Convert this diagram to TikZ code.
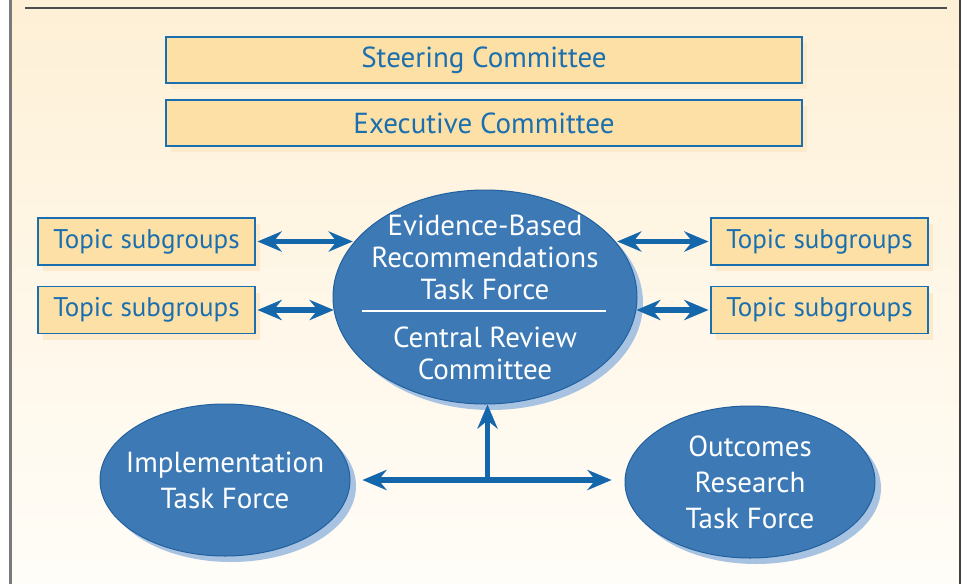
\documentclass[tikz,border=0pt]{standalone}
\usepackage{fontspec}
\setmainfont{PT Sans}
\usetikzlibrary{calc,positioning,arrows.meta,shapes.geometric,shadows}

\definecolor{panelTop}{HTML}{FEF0D6}
\definecolor{panelBottom}{HTML}{FFFDF8}
\definecolor{boxFill}{HTML}{FCE0A6}
\definecolor{boxShade}{HTML}{FBEACB}
\definecolor{boxBlue}{HTML}{1B6FAF}
\definecolor{ovalFill}{HTML}{3D7AB5}
\definecolor{ovalEdge}{HTML}{21609E}
\definecolor{ovalShade}{HTML}{A8C3E2}
\definecolor{arrowBlue}{HTML}{1467AA}
\definecolor{frameGrey}{HTML}{7A7A7A}

\begin{document}
\begin{tikzpicture}[%
	x=1pt,y=-1pt,
	>={Stealth[length=24pt,width=20pt,inset=8pt]},
	every node/.style = {font=\fontsize{29}{32}\selectfont},
	committee/.style={shape=rectangle,draw=boxBlue,line width=1.2pt,fill=boxFill,text=boxBlue,
	  minimum width=636pt,minimum height=46pt,
	  general shadow={fill=boxShade,shadow xshift=5pt,shadow yshift=-6pt}},
	subgroup/.style={committee,minimum width=217pt,minimum height=47pt,font=\fontsize{27}{32}\selectfont},
	taskforce/.style={shape=ellipse,draw=ovalEdge,line width=1pt,fill=ovalFill,
	  general shadow={fill=ovalShade,shadow xshift=6pt,shadow yshift=-6pt}},
	oval text/.style={text=white,align=center,inner sep=0pt},
	low text/.style={oval text,font=\fontsize{29}{36}\selectfont},
	link/.style={draw=arrowBlue,line width=5.5pt},
	link shade/.style={draw=ovalShade,line width=5.5pt,xshift=4pt,yshift=-6pt}
	]
  \useasboundingbox (0,0) rectangle (962,584);
  % panel
  \fill[white] (0,0) rectangle (962,584);
  \shade[top color=panelTop,bottom color=panelBottom] (12,0) rectangle (959,584);
  \draw[frameGrey,line width=3pt] (10.5,0) -- (10.5,584);
  \draw[black!75,line width=2.5pt] (960,0) -- (960,584);
  \draw[black!70,line width=2pt] (25,8) -- (947,8);

  \node [committee] (steer) at (484,60) {Steering Committee};
  \node [committee] (exec) at (484,123) {Executive Committee};

  \node [subgroup] (tl1) at (146.5,241.5) {Topic subgroups};
  \node [subgroup] (tl2) at (146.5,310) {Topic subgroups};
  \node [subgroup] (tr1) at (819.5,241.5) {Topic subgroups};
  \node [subgroup] (tr2) at (819.5,310) {Topic subgroups};

  \node [taskforce,minimum width=304pt,minimum height=214pt] (cen) at (485,297) {};
  \node [oval text] (ebr) at (485,257) {Evidence-Based\\Recommendations\\Task Force};
  \node [oval text] (crc) at (485,353) {Central Review\\Committee};
  \draw [white,line width=2pt] (362,311) -- (606,311);

  \node [taskforce,minimum width=250pt,minimum height=152pt] (impl) at (225,480) {};
  \node [low text] (impltxt) at (impl.center) {Implementation\\Task Force};
  \node [taskforce,minimum width=250pt,minimum height=152pt] (outc) at (750,482) {};
  \node [low text] (outctxt) at (outc.center) {Outcomes\\Research\\Task Force};

  \coordinate (mid) at ($(impl.east)!0.5!(outc.west)$);

  % shadows under the connectors
  \draw [link shade,<->,shorten <=2pt] (tl1.east) -- (tl1.east -| cen.158);
  \draw [link shade,<->,shorten <=2pt] (tl2.east) -- (tl2.east -| cen.185);
  \draw [link shade,<->,shorten <=2pt] (tr1.west) -- (tr1.west -| cen.22);
  \draw [link shade,<->,shorten <=2pt] (tr2.west) -- (tr2.west -| cen.355);
  \draw [link shade,<->,shorten <=12pt,shorten >=13pt] (impl.east) -- (impl.east -| outc.west);
  \draw [link shade,->] (mid) -- (mid |- cen.south);

  \draw [link,<->,shorten <=2pt] (tl1.east) -- (tl1.east -| cen.158);
  \draw [link,<->,shorten <=2pt] (tl2.east) -- (tl2.east -| cen.185);
  \draw [link,<->,shorten <=2pt] (tr1.west) -- (tr1.west -| cen.22);
  \draw [link,<->,shorten <=2pt] (tr2.west) -- (tr2.west -| cen.355);
  \draw [link,<->,shorten <=12pt,shorten >=13pt] (impl.east) -- (impl.east -| outc.west);
  \draw [link,->] (mid) -- (mid |- cen.south);
\end{tikzpicture}
\end{document}
